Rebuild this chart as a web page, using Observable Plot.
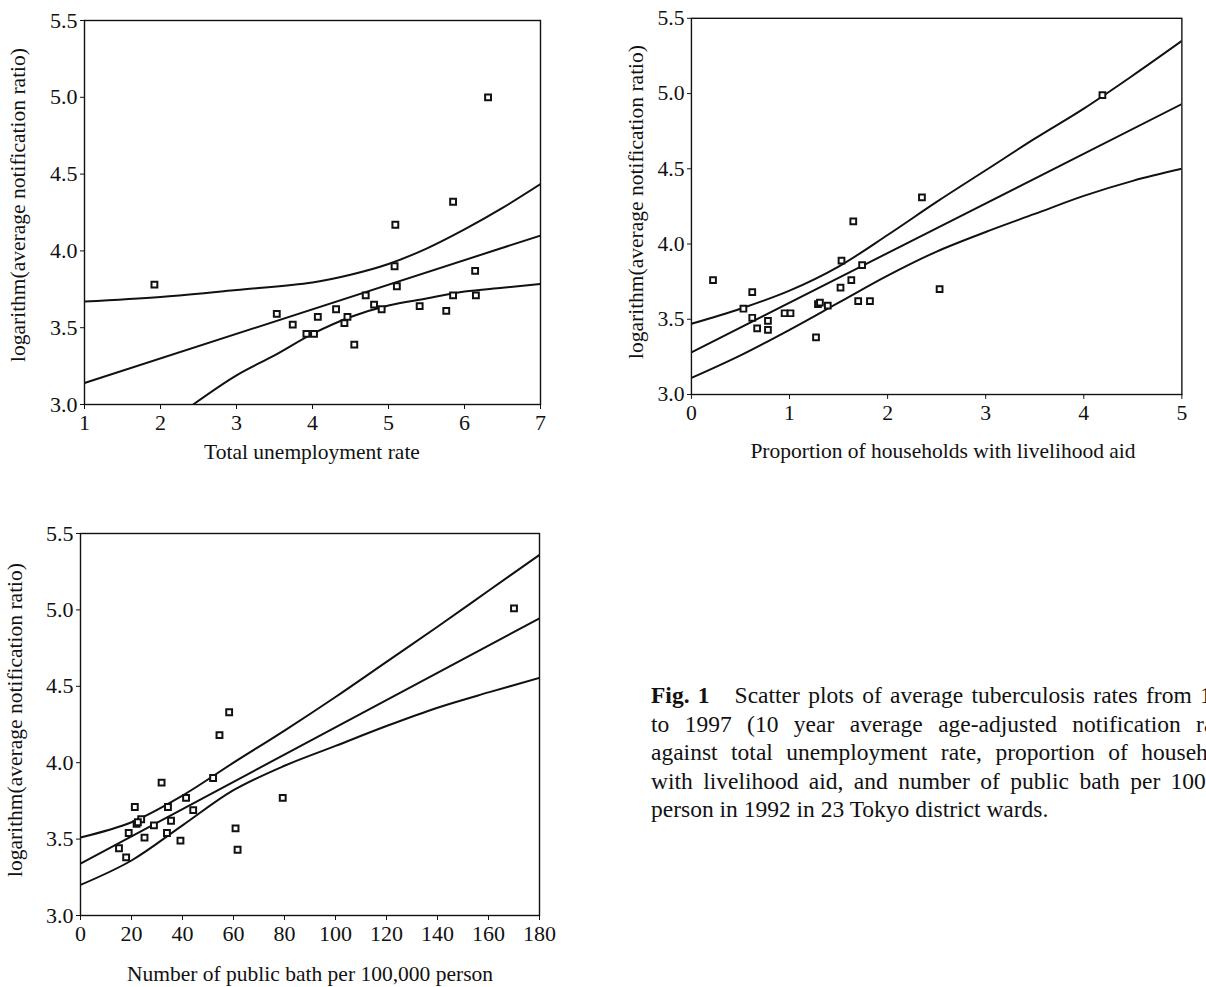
<!DOCTYPE html>
<html>
<head>
<meta charset="utf-8">
<script src="https://cdn.jsdelivr.net/npm/d3@7"></script>
<script src="https://cdn.jsdelivr.net/npm/@observablehq/plot@0.6"></script>
<style>
  html, body { margin: 0; padding: 0; background: #fff; width: 1206px; height: 987px; overflow: hidden; }
  body { position: relative; font-family: "Liberation Serif", "Times New Roman", serif; color: #111; }
  .panel { position: absolute; }
  .xt { position: absolute; transform: translate(-50%, -50%); white-space: nowrap; font-size: 21.5px; }
  .yt { position: absolute; transform: translate(-50%, -50%) rotate(-90deg); white-space: nowrap; font-size: 21.5px; }
  #caption { position: absolute; left: 651px; top: 681px; width: 596px; font-size: 23.5px; line-height: 28.5px; }
  #caption .j { text-align: justify; text-align-last: justify; }
  #caption .l { text-align: left; }
</style>
</head>
<body>
<div id="p1" class="panel"></div>
<div id="p2" class="panel"></div>
<div id="p3" class="panel"></div>

<div class="yt" style="left:18px; top:205px;">logarithm(average notification ratio)</div>
<div class="xt" style="left:312px; top:452px;">Total unemployment rate</div>
<div class="yt" style="left:636px; top:202px;">logarithm(average notification ratio)</div>
<div class="xt" style="left:943px; top:451px;">Proportion of households with livelihood aid</div>
<div class="yt" style="left:15px; top:720px;">logarithm(average notification ratio)</div>
<div class="xt" style="left:310px; top:974px;">Number of public bath per 100,000 person</div>

<div id="caption">
  <div class="j"><b>Fig. 1</b>&nbsp;&nbsp; Scatter plots of average tuberculosis rates from 1988</div>
  <div class="j">to 1997 (10 year average age-adjusted notification ratio)</div>
  <div class="j">against total unemployment rate, proportion of households</div>
  <div class="j">with livelihood aid, and number of public bath per 100,000</div>
  <div class="l">person in 1992 in 23 Tokyo district wards.</div>
</div>

<script>
// ---------- shared y ticks ----------
const yTicks = [3.0, 3.5, 4.0, 4.5, 5.0, 5.5];

// ---------- Panel 1: total unemployment rate ----------
const unempTicks = [1, 2, 3, 4, 5, 6, 7];
const unempRate = [1.92, 6.31, 5.85, 5.09, 5.08, 5.11, 6.14, 6.15, 5.85, 4.70, 4.81, 4.91, 5.41, 5.76, 4.31, 4.46, 4.42, 4.07, 3.53, 3.74, 3.92, 4.02, 4.55];
const unempLogRate = [3.78, 5.00, 4.32, 4.17, 3.90, 3.77, 3.87, 3.71, 3.71, 3.71, 3.65, 3.62, 3.64, 3.61, 3.62, 3.57, 3.53, 3.57, 3.59, 3.52, 3.46, 3.46, 3.39];
const unempBandX = [1, 2, 3, 4, 4.5, 5, 5.5, 6, 6.5, 7];
const unempUpper = [3.67, 3.70, 3.745, 3.795, 3.845, 3.915, 4.015, 4.14, 4.28, 4.435];
const unempFitX = [1, 7];
const unempFit = [3.14, 4.10];
const unempLowerX = [2.43, 3, 3.5, 4, 4.5, 5, 5.5, 6, 6.5, 7];
const unempLower = [3.0, 3.19, 3.32, 3.46, 3.57, 3.645, 3.69, 3.735, 3.76, 3.785];

// ---------- Panel 2: households with livelihood aid ----------
const aidTicks = [0, 1, 2, 3, 4, 5];
const aidProp = [4.19, 2.35, 1.65, 1.53, 1.74, 0.22, 1.63, 0.62, 1.52, 2.53, 0.53, 1.70, 1.82, 1.29, 1.39, 0.95, 1.01, 0.62, 0.78, 0.67, 0.78, 1.27, 1.31];
const aidLogRate = [4.99, 4.31, 4.15, 3.89, 3.86, 3.76, 3.76, 3.68, 3.71, 3.70, 3.57, 3.62, 3.62, 3.60, 3.59, 3.54, 3.54, 3.51, 3.49, 3.44, 3.43, 3.38, 3.61];
const aidBandX = [0, 0.5, 1, 1.5, 2, 2.5, 3, 3.5, 4, 4.5, 5];
const aidUpper = [3.47, 3.57, 3.69, 3.85, 4.06, 4.28, 4.49, 4.70, 4.90, 5.12, 5.35];
const aidLower = [3.11, 3.26, 3.43, 3.61, 3.79, 3.95, 4.08, 4.20, 4.32, 4.42, 4.50];
const aidFitX = [0, 5];
const aidFit = [3.28, 4.93];

// ---------- Panel 3: public baths per 100,000 ----------
const bathTicks = [0, 20, 40, 60, 80, 100, 120, 140, 160, 180];
const bathCount = [170.0, 58.3, 54.5, 52.0, 31.8, 79.3, 41.4, 21.3, 34.3, 44.2, 23.8, 22.0, 35.5, 28.8, 60.8, 18.9, 33.9, 25.1, 39.2, 15.1, 61.6, 17.9, 22.5];
const bathLogRate = [5.01, 4.33, 4.18, 3.90, 3.87, 3.77, 3.77, 3.71, 3.71, 3.69, 3.63, 3.60, 3.62, 3.59, 3.57, 3.54, 3.54, 3.51, 3.49, 3.44, 3.43, 3.38, 3.61];
const bathBandX = [0, 20, 40, 60, 80, 100, 120, 140, 160, 180];
const bathUpper = [3.51, 3.61, 3.785, 4.00, 4.21, 4.43, 4.66, 4.89, 5.125, 5.36];
const bathLower = [3.20, 3.36, 3.59, 3.82, 3.98, 4.11, 4.24, 4.36, 4.46, 4.555];
const bathFitX = [0, 180];
const bathFit = [3.34, 4.945];

function drawPanel(id, cfg) {
  const ml = 70, mr = 25, mt = 12, mb = 40;
  const w = cfg.R - cfg.L, h = cfg.B - cfg.T;
  const idx = d3.range(cfg.px.length);
  const lineOpts = {curve: "catmull-rom", stroke: "#111", strokeWidth: 2, clip: true};
  const chart = Plot.plot({
    width: w + ml + mr,
    height: h + mt + mb,
    marginLeft: ml, marginRight: mr, marginTop: mt, marginBottom: mb,
    style: {fontFamily: '"Liberation Serif", "Times New Roman", serif', fontSize: "22px", color: "#111", background: "transparent", overflow: "visible"},
    x: {domain: cfg.xDomain},
    y: {domain: [3, 5.5]},
    marks: [
      Plot.axisX({ticks: cfg.xTicks, tickSize: 5, tickPadding: 5, label: null, tickFormat: d => String(d), fontSize: 22}),
      Plot.axisY({ticks: yTicks, tickSize: 4, tickPadding: 3, label: null, tickFormat: d3.format(".1f"), fontSize: 22}),
      Plot.line(cfg.upperX, {x: d => d, y: (d, i) => cfg.upper[i], ...lineOpts}),
      Plot.line(cfg.fitX, {x: d => d, y: (d, i) => cfg.fit[i], ...lineOpts}),
      Plot.line(cfg.lowerX, {x: d => d, y: (d, i) => cfg.lower[i], ...lineOpts}),
      Plot.dot(idx, {x: i => cfg.px[i], y: i => cfg.py[i], symbol: "square", r: 3.3, stroke: "#111", strokeWidth: 2, fill: "white"}),
      Plot.frame({stroke: "#111", strokeWidth: 1.4})
    ]
  });
  const el = document.getElementById(id);
  el.style.left = (cfg.L - ml) + "px";
  el.style.top = (cfg.T - mt) + "px";
  el.appendChild(chart);
}

drawPanel("p1", {L: 84, R: 540, T: 20, B: 404, xDomain: [1, 7], xTicks: unempTicks,
  px: unempRate, py: unempLogRate,
  upperX: unempBandX, upper: unempUpper, fitX: unempFitX, fit: unempFit, lowerX: unempLowerX, lower: unempLower});

drawPanel("p2", {L: 692, R: 1190, T: 18, B: 400, xDomain: [0, 5], xTicks: aidTicks,
  px: aidProp, py: aidLogRate,
  upperX: aidBandX, upper: aidUpper, fitX: aidFitX, fit: aidFit, lowerX: aidBandX, lower: aidLower});

drawPanel("p3", {L: 80, R: 539, T: 533, B: 915, xDomain: [0, 180], xTicks: bathTicks,
  px: bathCount, py: bathLogRate,
  upperX: bathBandX, upper: bathUpper, fitX: bathFitX, fit: bathFit, lowerX: bathBandX, lower: bathLower});
</script>
</body>
</html>
